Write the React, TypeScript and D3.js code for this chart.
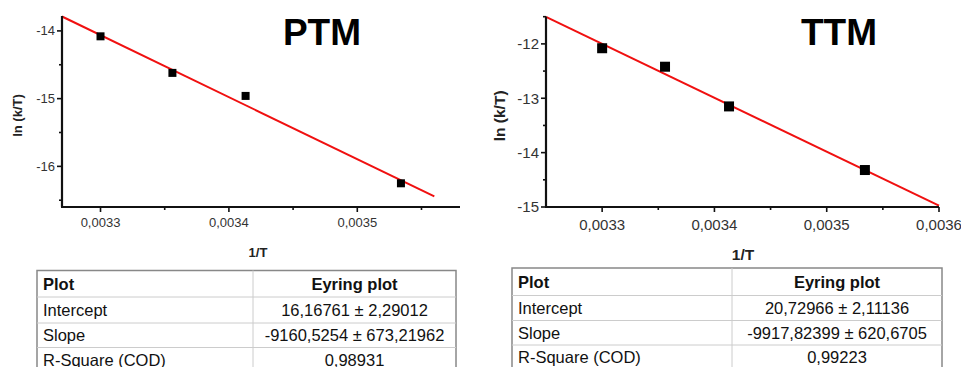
import React from "react";
import * as d3 from "d3";

const invT = [0.0033, 0.003356, 0.003413, 0.003534];
const ptmY = [-14.08, -14.62, -14.96, -16.25];
const ttmY = [-12.08, -12.42, -13.15, -14.32];

const ptmFit = { intercept: 16.16761, slope: -9160.5254, from: 0.00327, to: 0.00356 };
const ttmFit = { intercept: 20.72966, slope: -9917.82399, from: 0.00325, to: 0.0036 };

const ptmXTicks = [0.0033, 0.0034, 0.0035];
const ptmXMinor = [0.00335, 0.00345, 0.00355];
const ptmYTicks = [-14, -15, -16];
const ptmYMinor = [-14.5, -15.5, -16.5];

const ttmXTicks = [0.0033, 0.0034, 0.0035, 0.0036];
const ttmXMinor = [0.00335, 0.00345, 0.00355];
const ttmYTicks = [-12, -13, -14, -15];
const ttmYMinor = [-11.5, -12.5, -13.5, -14.5];

const tableRows = ["Plot", "Intercept", "Slope", "R-Square (COD)"];
const ptmTable = ["Eyring plot", "16,16761 ± 2,29012", "-9160,5254 ± 673,21962", "0,98931"];
const ttmTable = ["Eyring plot", "20,72966 ± 2,11136", "-9917,82399 ± 620,6705", "0,99223"];

const FONT = "'Liberation Sans', Arial, Helvetica, sans-serif";
const fmt = (v: number) => v.toFixed(4).replace(".", ",");

type PanelProps = {
  title: string;
  titleX: number;
  xDomain: [number, number];
  xRange: [number, number];
  yDomain: [number, number];
  yRange: [number, number];
  xTicks: number[];
  xMinor: number[];
  yTicks: number[];
  yMinor: number[];
  ys: number[];
  fit: { intercept: number; slope: number; from: number; to: number };
  tickFont: number;
  labelFont: number;
  sq: number;
  xLabelY: number;
  xTickY: number;
  yLabelX: number;
  xLabelX: number;
};

function Panel(p: PanelProps) {
  const x = d3.scaleLinear().domain(p.xDomain).range(p.xRange);
  const y = d3.scaleLinear().domain(p.yDomain).range(p.yRange);
  const x0 = p.xRange[0];
  const y0 = p.yRange[0];
  const line = d3
    .line<number>()
    .x((d) => x(d))
    .y((d) => y(p.fit.intercept + p.fit.slope * d));
  return (
    <g fontFamily={FONT}>
      <path d={line([p.fit.from, p.fit.to]) || ""} stroke="#f01010" strokeWidth={2} fill="none" />
      {invT.map((v, i) => (
        <rect key={i} x={x(v) - p.sq / 2} y={y(p.ys[i]) - p.sq / 2} width={p.sq} height={p.sq} fill="#000" />
      ))}
      <line x1={x0} x2={x0} y1={p.yRange[1]} y2={y0} stroke="#111" strokeWidth={2.2} />
      <line x1={x0 - 1} x2={p.xRange[1]} y1={y0} y2={y0} stroke="#111" strokeWidth={2.2} />
      {p.yTicks.map((t) => (
        <g key={t}>
          <line x1={x0 - 5} x2={x0} y1={y(t)} y2={y(t)} stroke="#111" strokeWidth={1.6} />
          <text x={x0 - 7} y={y(t)} dy="0.35em" textAnchor="end" fontSize={p.tickFont} fill="#333">
            {t}
          </text>
        </g>
      ))}
      {p.yMinor.map((t) => (
        <line key={t} x1={x0 - 3} x2={x0} y1={y(t)} y2={y(t)} stroke="#111" strokeWidth={1.6} />
      ))}
      {p.xTicks.map((t) => (
        <g key={t}>
          <line x1={x(t)} x2={x(t)} y1={y0} y2={y0 + 5} stroke="#111" strokeWidth={1.6} />
          <text x={x(t)} y={p.xTickY} textAnchor="middle" fontSize={p.tickFont} fill="#333">
            {fmt(t)}
          </text>
        </g>
      ))}
      {p.xMinor.map((t) => (
        <line key={t} x1={x(t)} x2={x(t)} y1={y0} y2={y0 + 3} stroke="#111" strokeWidth={1.6} />
      ))}
      <text
        transform={`translate(${p.yLabelX},${(p.yRange[0] + p.yRange[1]) / 2 + 4}) rotate(-90)`}
        textAnchor="middle"
        fontSize={p.labelFont}
        fontWeight="bold"
        fill="#222"
      >
        ln (k/T)
      </text>
      <text x={p.xLabelX} y={p.xLabelY} textAnchor="middle" fontSize={p.labelFont} fontWeight="bold" fill="#222">
        1/T
      </text>
      <text x={p.titleX} y={45} textAnchor="middle" fontSize={37} fontWeight="bold" fill="#000">
        {p.title}
      </text>
    </g>
  );
}

type TableProps = {
  left: number;
  right: number;
  mid: number;
  top: number;
  rowYs: number[];
  values: string[];
};

function Table(t: TableProps) {
  const bottom = 380;
  return (
    <g fontFamily={FONT} fontSize={16.5}>
      <rect x={t.left} y={t.top} width={t.right - t.left} height={bottom - t.top} fill="#fff" stroke="#888" strokeWidth={1.5} />
      <line x1={t.mid} x2={t.mid} y1={t.top} y2={bottom} stroke="#ccc" strokeWidth={1} />
      {t.rowYs.slice(1).map((ry, i) => (
        <line key={i} x1={t.left} x2={t.right} y1={ry} y2={ry} stroke="#ccc" strokeWidth={1} />
      ))}
      {tableRows.map((r, i) => {
        const rowTop = t.rowYs[i];
        const rowBottom = i + 1 < t.rowYs.length ? t.rowYs[i + 1] : rowTop + 25;
        const cy = (rowTop + rowBottom) / 2;
        return (
          <g key={r}>
            <text x={t.left + 6} y={cy} dy="0.36em" fill="#111" fontWeight={i === 0 ? "bold" : "normal"}>
              {r}
            </text>
            <text x={(t.mid + t.right) / 2} y={cy} dy="0.36em" textAnchor="middle" fill="#111" fontWeight={i === 0 ? "bold" : "normal"}>
              {t.values[i]}
            </text>
          </g>
        );
      })}
    </g>
  );
}

export default function App() {
  return (
    <svg width={961} height={367} style={{ position: "absolute", left: 0, top: 0, background: "#fff" }}>
      <rect width={961} height={367} fill="#fff" />
      <Panel
        title="PTM"
        titleX={322}
        xDomain={[0.00327, 0.00358]}
        xRange={[62, 460]}
        yDomain={[-16.6, -13.78]}
        yRange={[207, 16]}
        xTicks={ptmXTicks}
        xMinor={ptmXMinor}
        yTicks={ptmYTicks}
        yMinor={ptmYMinor}
        ys={ptmY}
        fit={ptmFit}
        tickFont={13}
        labelFont={13}
        sq={8}
        xTickY={227}
        xLabelY={257}
        yLabelX={22}
        xLabelX={258}
      />
      <Panel
        title="TTM"
        titleX={839}
        xDomain={[0.00325, 0.0036]}
        xRange={[546, 939]}
        yDomain={[-15, -11.5]}
        yRange={[207, 16.7]}
        xTicks={ttmXTicks}
        xMinor={ttmXMinor}
        yTicks={ttmYTicks}
        yMinor={ttmYMinor}
        ys={ttmY}
        fit={ttmFit}
        tickFont={15}
        labelFont={15.5}
        sq={10}
        xTickY={230}
        xLabelY={260}
        yLabelX={505}
        xLabelX={743}
      />
      <Table left={37} right={456} mid={253} top={270.5} rowYs={[270.5, 297, 323, 347.5]} values={ptmTable} />
      <Table left={512} right={942} mid={732} top={268} rowYs={[268, 295.5, 320.5, 345]} values={ttmTable} />
    </svg>
  );
}
